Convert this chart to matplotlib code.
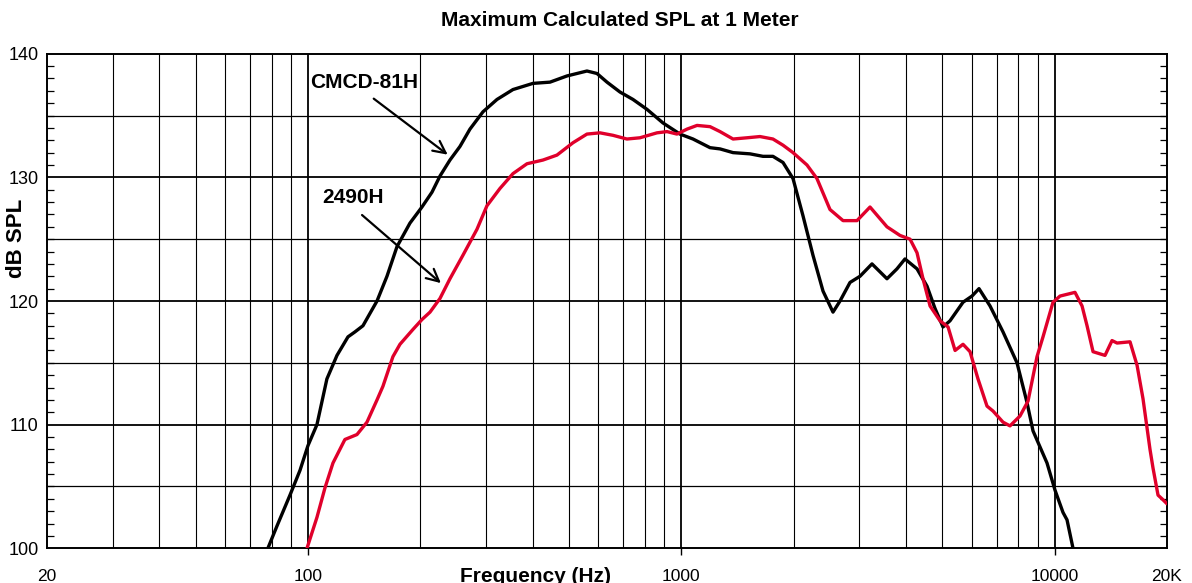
import numpy as np
import matplotlib
matplotlib.use("Agg")
import matplotlib.pyplot as plt
from matplotlib.ticker import FixedLocator, MultipleLocator, NullFormatter

plt.rcParams['font.family'] = ['Liberation Sans', 'DejaVu Sans']

# ---------------- data ----------------
cmcd_freq = [78.1, 82.6, 89.5, 95.2, 100, 105.7, 112.4, 119.6, 128.0, 133.6, 140.4,
             146.6, 153.1, 162.8, 173.2, 187.6, 202.0, 214.9, 225.7, 240.1, 255.4,
             271.6, 294.3, 320.9, 354.1, 400.6, 445.0, 494.1, 525.5, 558.9, 594.5,
             632.4, 685.2, 742.4, 809.2, 893.2, 992.0, 1075, 1194, 1270, 1376, 1528,
             1655, 1760, 1873, 1992, 2118, 2253, 2397, 2549, 2662, 2831, 3011, 3242,
             3556, 3782, 3974, 4280, 4552, 4782, 5024, 5246, 5684, 6008, 6273, 6714,
             7274, 7930, 8433, 8752, 9541, 10025, 10531, 10795, 11202]
cmcd_spl = [100.0, 101.8, 104.3, 106.3, 108.3, 110.0, 113.7, 115.6, 117.1, 117.5, 118.0,
            119.0, 120.0, 122.0, 124.4, 126.3, 127.6, 128.8, 130.1, 131.4, 132.5,
            133.9, 135.3, 136.3, 137.1, 137.6, 137.7, 138.2, 138.4, 138.6, 138.4,
            137.7, 136.9, 136.3, 135.5, 134.4, 133.5, 133.1, 132.4, 132.3, 132.0, 131.9,
            131.7, 131.7, 131.2, 129.9, 126.9, 123.7, 120.8, 119.1, 120.0, 121.5, 122.0, 123.0,
            121.8, 122.6, 123.4, 122.6, 121.2, 119.4, 117.9, 118.4, 119.9, 120.4, 121.0, 119.6,
            117.5, 115.0, 111.8, 109.5, 106.9, 104.7, 102.9, 102.3, 100.0]

h2490_freq = [99.4, 105.7, 111.1, 116.7, 125.6, 135.3, 143.9, 153.1, 158.8, 168.9, 176.4,
              191.1, 202.0, 212.3, 225.7, 240.1, 260.1, 283.6, 301.6, 326.8, 354.1,
              386.1, 426.1, 464.5, 512.8, 558.9, 605.6, 656.2, 715.2, 775.0, 860.8,
              915.6, 973.9, 1036, 1102, 1194, 1270, 1376, 1500, 1625, 1760, 1873, 1992,
              2171, 2309, 2502, 2712, 2956, 3203, 3556, 3854, 4100, 4280, 4441, 4638,
              4932, 5183, 5412, 5684, 5935, 6234, 6590, 6839, 7274, 7594, 8078, 8487,
              8971, 9309, 9901, 10339, 10998, 11339, 11843, 12214, 12674, 13646, 14249,
              14696, 15922, 16628, 17248, 18009, 18345, 18923, 19396, 20000]
h2490_spl = [100.0, 102.5, 104.9, 106.9, 108.8, 109.2, 110.2, 112.0, 113.1, 115.5, 116.5,
             117.7, 118.5, 119.1, 120.2, 121.8, 123.7, 125.8, 127.7, 129.1, 130.3,
             131.1, 131.4, 131.8, 132.8, 133.5, 133.6, 133.4, 133.1, 133.2, 133.6,
             133.7, 133.5, 133.9, 134.2, 134.1, 133.7, 133.1, 133.2, 133.3, 133.1, 132.6, 132.0,
             131.0, 129.9, 127.4, 126.5, 126.5, 127.6, 126.0, 125.3, 125.0, 123.9, 121.8, 119.6,
             118.4, 117.9, 116.0, 116.5, 115.9, 113.7, 111.5, 111.1, 110.2, 109.9, 110.7, 111.9,
             115.5, 117.1, 119.9, 120.4, 120.6, 120.7, 119.6, 118.0, 115.9, 115.6, 116.8,
             116.6, 116.7, 114.8, 112.1, 108.0, 106.5, 104.3, 104.0, 103.6]

x_tick_values = [20, 100, 1000, 10000, 20000]
x_tick_labels = ['20', '100', '1000', '10000', '20K']
y_tick_values = [100, 110, 120, 130, 140]

title = 'Maximum Calculated SPL at 1 Meter'
xlabel = 'Frequency (Hz)'
ylabel = 'dB SPL'

# ---------------- figure ----------------
W, H = 1192, 583
fig = plt.figure(figsize=(W / 100, H / 100), dpi=100)
ax = fig.add_axes([47 / W, 1 - 548.3 / H, (1167 - 47) / W, (548.3 - 53.7) / H])

ax.set_xscale('log')
ax.set_xlim(20, 20000)
ax.set_ylim(100, 140)

# grid lines
grid_minor = []
for dec in [10, 100, 1000, 10000]:
    for m in range(1, 10):
        v = dec * m
        if 20 < v < 20000:
            grid_minor.append(v)
for v in grid_minor:
    lw = 1.3 if v in (100, 1000, 10000) else 0.8
    ax.axvline(v, color='black', lw=lw, zorder=1)
for v in range(105, 140, 5):
    lw = 1.3 if v % 10 == 0 else 0.9
    ax.axhline(v, color='black', lw=lw, zorder=1)

ax.plot(cmcd_freq, cmcd_spl, color='black', lw=2.4, zorder=3,
        solid_joinstyle='round', solid_capstyle='round')
ax.plot(h2490_freq, h2490_spl, color='#e0002b', lw=2.4, zorder=3,
        solid_joinstyle='round', solid_capstyle='round')

# ticks
ax.xaxis.set_major_locator(FixedLocator(x_tick_values))
ax.set_xticklabels(x_tick_labels)
ax.xaxis.set_minor_locator(FixedLocator([]))
ax.xaxis.set_minor_formatter(NullFormatter())
ax.tick_params(axis='x', which='major', direction='out', length=5, width=1.0,
               pad=10, labelsize=12.5, colors='black')
xt = ax.xaxis.get_major_ticks()
xt[0].tick1line.set_visible(False)
xt[-1].tick1line.set_visible(False)

ax.yaxis.set_major_locator(FixedLocator(y_tick_values))
ax.yaxis.set_minor_locator(MultipleLocator(1))
ax.tick_params(axis='y', which='major', length=0, pad=6, labelsize=13)
ax.tick_params(axis='y', which='minor', direction='in', length=5, width=0.9,
               left=True, right=True)

for s in ax.spines.values():
    s.set_linewidth(1.4)
    s.set_color('black')

# annotations
ax.annotate('', xy=(240, 131.7), xytext=(148, 136.5),
            arrowprops=dict(arrowstyle='->', lw=1.6, color='black', mutation_scale=22))
ax.text(141.5, 137.7, 'CMCD-81H', ha='center', va='center', fontsize=15,
        fontweight='bold')
ax.annotate('', xy=(230, 121.3), xytext=(137.8, 127.1),
            arrowprops=dict(arrowstyle='->', lw=1.6, color='black', mutation_scale=22))
ax.text(132.0, 128.4, '2490H', ha='center', va='center', fontsize=15,
        fontweight='bold')

# titles / labels
fig.text(620 / W, 1 - 20 / H, title, ha='center', va='center', fontsize=15,
         fontweight='bold')
fig.text(536 / W, 1 - 576 / H, xlabel, ha='center', va='center', fontsize=15,
         fontweight='bold')
fig.text(17 / W, 1 - 238 / H, ylabel, ha='center', va='center', fontsize=16,
         fontweight='bold', rotation=90)

fig.savefig('out.png', dpi=100)
